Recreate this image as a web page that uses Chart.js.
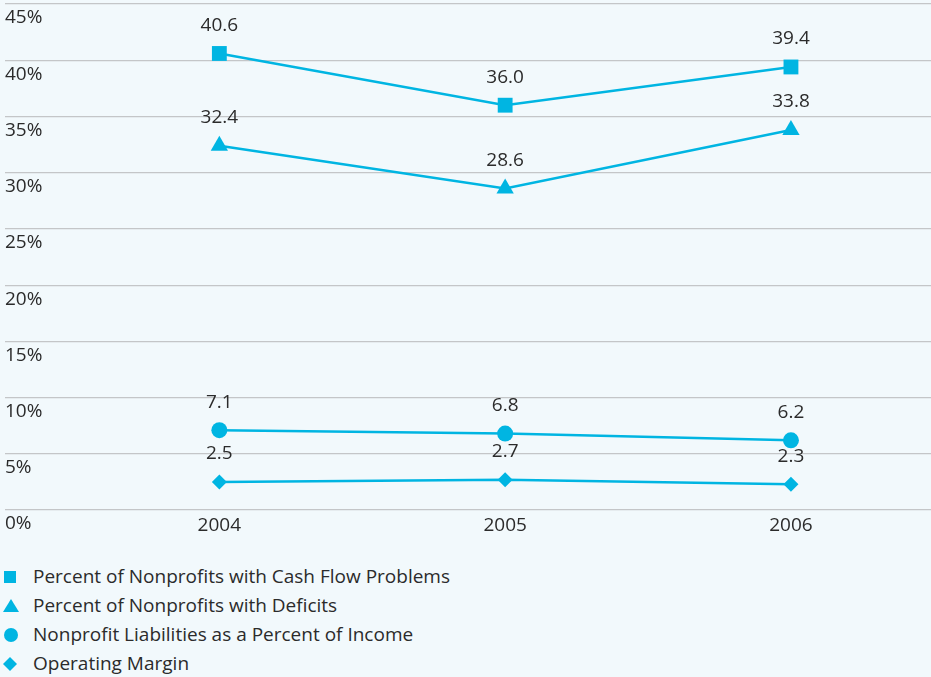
<!DOCTYPE html>
<html>
<head>
<meta charset="utf-8">
<script src="https://cdn.jsdelivr.net/npm/chart.js@4/dist/chart.umd.min.js"></script>
<style>
  html, body { margin: 0; overflow: hidden; }
  body { background: #f2f9fc; font-family: "Open Sans", sans-serif; }
  #wrap { position: relative; width: 931px; height: 545px; }
  #legend { margin: 17px 0 0 0; padding: 0; list-style: none; }
  #legend li { height: 29px; line-height: 29px; font-size: 19px; color: #2b2b2b; position: relative; padding-left: 33px; }
  #legend svg { position: absolute; left: 3px; top: 6px; }
</style>
</head>
<body>
<div id="wrap"><canvas id="chart"></canvas></div>
<ul id="legend"></ul>

<script>
const years = [2004, 2005, 2006]

const seriesNames = [
  "Percent of Nonprofits with Cash Flow Problems",
  "Percent of Nonprofits with Deficits",
  "Nonprofit Liabilities as a Percent of Income",
  "Operating Margin"
]

const cashFlow = [40.6, 36.0, 39.4]
const deficits = [32.4, 28.6, 33.8]
const liabilities = [7.1, 6.8, 6.2]
const margin = [2.5, 2.7, 2.3]

const yTicks = [0, 5, 10, 15, 20, 25, 30, 35, 40, 45]

const cyan = "#00b5e2"
const textColor = "#2b2b2b"
const fontFamily = "'Open Sans', sans-serif"

// marker style per series, same order as seriesNames
const markers = [
  { style: "rect", radius: 10.5 },
  { style: "triangle", radius: 10 },
  { style: "circle", radius: 8 },
  { style: "rectRot", radius: 7.5 }
]

const seriesValues = [cashFlow, deficits, liabilities, margin]

const datasets = seriesValues.map((vals, i) => ({
  label: seriesNames[i],
  data: vals.map((v, j) => ({ x: years[j], y: v })),
  borderColor: cyan,
  backgroundColor: cyan,
  borderWidth: 2.5,
  pointStyle: markers[i].style,
  pointRadius: markers[i].radius,
  pointBorderWidth: 0,
  pointHoverRadius: markers[i].radius
}))

// axis labels drawn by hand: y labels sit just under their grid line,
// so the built-in tick labels (and their layout padding) are switched off
const axisLabels = {
  id: "axisLabels",
  afterDraw(chart) {
    const ctx = chart.ctx
    const { x, y } = chart.scales
    ctx.save()
    ctx.font = "19px " + fontFamily
    ctx.fillStyle = textColor
    ctx.textBaseline = "middle"
    ctx.textAlign = "left"
    yTicks.forEach(v => ctx.fillText(v + "%", 5, y.getPixelForValue(v) + 14))
    ctx.textAlign = "center"
    years.forEach(yr => ctx.fillText(String(yr), x.getPixelForValue(yr), y.bottom + 16))
    ctx.restore()
  }
}

// value labels above each point
const valueLabels = {
  id: "valueLabels",
  afterDatasetsDraw(chart) {
    const ctx = chart.ctx
    ctx.save()
    ctx.font = "19px " + fontFamily
    ctx.fillStyle = textColor
    ctx.textAlign = "center"
    ctx.textBaseline = "middle"
    chart.data.datasets.forEach((ds, i) => {
      chart.getDatasetMeta(i).data.forEach((pt, j) => {
        ctx.fillText(ds.data[j].y.toFixed(1), pt.x, pt.y - 28)
      })
    })
    ctx.restore()
  }
}

new Chart(document.getElementById("chart"), {
  type: "line",
  data: { datasets },
  plugins: [valueLabels, axisLabels],
  options: {
    responsive: true,
    maintainAspectRatio: false,
    animation: false,
    layout: { autoPadding: false, padding: { left: 5, top: 4, right: 0, bottom: 27 } },
    plugins: {
      legend: { display: false },
      tooltip: { enabled: false }
    },
    scales: {
      x: {
        type: "linear",
        min: 2003.25,
        max: 2006.49,
        afterBuildTicks: axis => { axis.ticks = years.map(v => ({ value: v })) },
        grid: { display: false },
        border: { display: false },
        ticks: { display: false }
      },
      y: {
        min: 0,
        max: 45,
        afterBuildTicks: axis => { axis.ticks = yTicks.map(v => ({ value: v })) },
        grid: { color: "#c4c6c8", lineWidth: 1.2, drawTicks: false },
        border: { display: false },
        ticks: { display: false }
      }
    }
  }
})

// legend list under the chart
const shapes = [
  '<rect x="1" y="3" width="12" height="12" fill="' + cyan + '"/>',
  '<polygon points="8,2 16,15 0,15" fill="' + cyan + '"/>',
  '<circle cx="8" cy="9" r="7" fill="' + cyan + '"/>',
  '<polygon points="7,2 14,9 7,16 0,9" fill="' + cyan + '"/>'
]
const legend = document.getElementById("legend")
seriesNames.forEach((name, i) => {
  const li = document.createElement("li")
  li.innerHTML = '<svg width="18" height="18">' + shapes[i] + '</svg>' + name
  legend.appendChild(li)
})
</script>
</body>
</html>
